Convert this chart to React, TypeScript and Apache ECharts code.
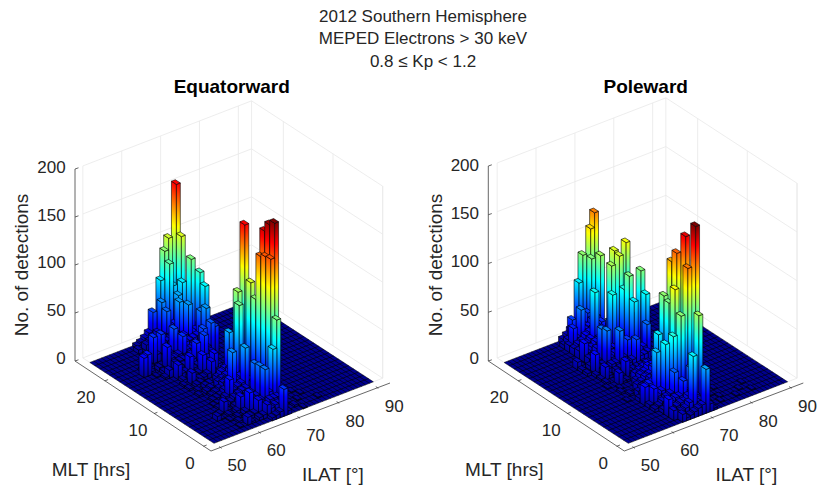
import React, { useEffect, useRef } from "react";
import * as echarts from "echarts";

// [MLT hour, ILAT degree, number of detections]; cells not listed have 0 detections
const equatorwardPeaks: number[][] = [
  [24,71,156],[23,71,105],[24,69,103],[24,68,91],[23,68,81],[24,67,62],[23,69,57],[21,71,88],[20,72,76],[22,70,62],
  [19,72,65],[23,66,44],[24,65,32],[22,66,38],[21,68,48],[22,69,50],[20,69,47],[19,71,40],[18,71,47],[17,71,35],
  [17,69,32],[17,72,30],[20,60,27],[18,55,20],[18,56,22],[20,62,27],[19,64,33],[18,61,22],[18,65,27],[16,66,25],
  [16,68,30],[14,65,21],[15,63,19],[15,60,15],[13,61,12],[13,66,16],[14,68,18],[16,59,8],
  [11,72,156],[5,72,178],[6,72,173],[7,72,163],[5,71,142],[6,71,141],[7,71,138],[3,70,87],[3,69,58],[8,71,90],
  [9,71,104],[10,69,94],[9,68,85],[11,68,50],[8,65,44],[7,67,49],[5,67,39],[4,67,40],[3,67,40],[7,63,22],
  [4,62,16],[3,63,22],[2,64,16],[1,65,13],[5,59,12],[4,56,5],[1,60,8],[0,68,28],
];
const equatorwardLow: number[][] = [
  [24,64,12],[24,63,8],[24,62,5],[24,61,3],[23,65,14],[23,64,10],[23,63,8],[23,62,6],[23,60,4],
  [22,65,15],[22,64,12],[22,63,9],[22,67,20],[22,68,22],[22,71,18],
  [21,66,15],[21,65,12],[21,64,11],[21,63,8],[21,62,8],[21,67,18],[21,69,20],[21,70,20],[21,72,14],
  [20,66,14],[20,65,13],[20,64,10],[20,63,10],[20,61,8],[20,67,16],[20,68,17],[20,71,18],[20,73,8],
  [19,67,15],[19,66,12],[19,65,13],[19,63,10],[19,62,7],[19,68,15],[19,69,16],[19,70,17],[19,72,10],
  [18,64,10],[18,63,8],[18,62,9],[18,66,12],[18,67,11],[18,68,14],[18,69,12],[18,70,14],[18,72,10],
  [17,66,10],[17,65,9],[17,64,8],[17,63,8],[17,62,7],[17,68,11],[17,70,12],
  [16,65,10],[16,64,7],[16,63,7],[16,62,6],[16,67,10],[16,69,10],[16,70,10],
  [15,67,8],[15,66,8],[15,65,7],[15,64,6],[15,62,5],[15,61,5],[15,68,10],[15,69,8],
  [14,66,7],[14,64,4],[14,63,4],[14,67,7],[14,69,6],[14,62,3],
  [13,65,5],[13,64,3],[13,63,3],[13,62,3],[13,67,4],[13,68,3],
  [11,67,14],[11,66,12],[11,65,8],[11,69,18],
  [10,67,16],[10,66,12],[10,65,10],[10,64,8],[10,68,18],
  [9,67,14],[9,66,12],[9,65,12],[9,64,10],[9,63,6],[9,69,20],
  [8,66,14],[8,64,12],[8,63,8],[8,62,4],[8,67,16],[8,68,17],
  [7,66,14],[7,65,12],[7,64,10],[7,62,6],[7,68,15],
  [6,66,12],[6,65,11],[6,64,9],[6,63,7],[6,62,4],[6,68,14],
  [5,66,11],[5,65,9],[5,64,7],[5,63,6],[5,62,3],[5,68,14],
  [4,66,11],[4,65,10],[4,64,8],[4,63,7],[4,68,14],[4,61,3],
  [3,66,10],[3,65,9],[3,64,9],[3,68,15],[3,62,4],
  [2,67,12],[2,66,8],[2,65,6],[2,63,4],[2,68,12],[2,62,3],[2,69,12],
  [1,66,8],[1,67,10],[1,68,10],[1,64,4],[1,63,3],
  [0,67,6],[0,66,4],[0,65,3],[0,69,4],
  [14,60,3],[13,59,2],[12,61,3],[12,59,2],[12,62,4],[11,60,2],[11,62,4],[11,63,5],[10,59,2],[10,61,3],[10,62,5],
  [9,61,2],[9,62,4],[8,60,2],[8,61,3],[7,60,2],[7,59,1],[6,59,2],[6,60,3],[5,58,1],[5,60,2],[4,57,1],[4,59,2],
  [3,58,1],[3,60,2],[2,59,2],[2,61,2],[1,58,1],[1,61,2],[16,58,2],[16,60,3],[17,59,3],[17,57,1],[18,59,4],[18,57,3],
  [19,58,3],[19,56,2],[1,72,2],[2,72,1],[2,74,1],[3,76,1],[1,78,1],[4,75,1],[0,73,1],
];
const polewardPeaks: number[][] = [
  [24,72,123],[24,71,108],[24,69,84],[23,70,82],[22,71,87],[24,68,57],[23,65,27],[22,64,23],[22,66,39],[20,67,62],
  [19,70,88],[20,72,97],[19,72,95],[20,75,101],[17,72,81],[17,75,82],[18,69,63],[18,72,64],[16,72,58],[16,75,61],
  [15,74,35],[17,65,37],[16,65,39],[15,67,39],[15,69,27],[14,70,29],[13,66,16],[12,63,12],[14,62,13],[16,62,19],
  [19,63,19],[18,60,8],
  [6,75,164],[8,75,147],[9,74,128],[10,74,116],[6,73,124],[10,72,84],[9,72,80],[5,70,83],[7,71,102],[3,72,87],
  [1,68,58],[3,70,36],[4,67,33],[3,68,26],[5,68,65],[8,68,57],[5,66,60],[6,65,50],[6,63,21],[5,63,19],
  [6,62,19],[2,63,18],[0,64,8],[1,63,10],[0,70,45],[0,71,8],
];
const polewardLow: number[][] = [
  [24,67,16],[24,66,12],[24,65,8],[24,64,5],[24,70,30],
  [23,68,18],[23,67,15],[23,66,14],[23,64,8],[23,63,4],[23,69,28],
  [22,67,18],[22,65,12],[22,63,7],[22,68,19],[22,69,24],[22,70,26],
  [21,67,18],[21,66,16],[21,65,12],[21,64,10],[21,63,7],[21,68,20],[21,69,21],[21,70,24],
  [20,66,16],[20,65,13],[20,64,10],[20,63,8],[20,68,20],[20,69,22],[20,71,26],
  [19,67,18],[19,66,16],[19,65,12],[19,64,8],[19,68,20],
  [18,67,16],[18,66,14],[18,64,8],[18,63,7],[18,65,14],[18,70,18],[18,71,20],
  [17,66,13],[17,64,7],[17,63,6],[17,62,4],[17,67,14],[17,68,14],[17,69,13],[17,70,14],[17,71,15],
  [16,64,6],[16,63,5],[16,66,10],[16,67,13],[16,68,13],[16,69,13],[16,70,14],[16,71,15],
  [15,66,8],[15,65,8],[15,64,5],[15,63,4],[15,68,11],[15,70,12],[15,71,14],[15,73,14],
  [14,67,7],[14,66,6],[14,65,5],[14,63,3],[14,68,8],[14,69,10],[14,71,11],[14,72,11],[14,73,12],
  [13,65,3],[13,64,3],[13,67,5],[13,68,5],[13,69,6],[13,70,6],[13,71,7],[13,72,6],
  [12,65,2],[12,64,2],[12,67,3],[12,68,3],[12,69,3],[12,70,3],
  [11,68,14],[11,67,12],[11,66,10],[11,69,16],[11,71,24],
  [10,67,14],[10,66,12],[10,65,8],[10,68,18],[10,69,18],[10,70,22],
  [9,66,13],[9,65,10],[9,64,8],[9,67,15],[9,68,20],[9,69,20],[9,70,22],
  [8,65,11],[8,64,10],[8,63,6],[8,66,15],[8,67,16],[8,69,22],
  [7,65,16],[7,64,12],[7,63,8],[7,62,4],[7,66,18],[7,67,19],[7,68,20],
  [6,64,11],[6,66,18],[6,67,18],[6,68,20],
  [5,64,10],[5,65,14],[5,67,22],[5,62,4],
  [4,64,8],[4,65,11],[4,66,13],[4,63,5],[4,62,3],[4,68,14],
  [3,66,12],[3,67,12],[3,65,8],[3,64,7],[3,63,4],[3,69,14],
  [2,64,7],[2,65,8],[2,66,10],[2,67,10],[2,68,14],[2,69,16],[2,70,12],
  [1,64,4],[1,65,6],[1,66,8],[1,67,12],[1,69,10],[1,70,10],
  [0,65,3],[0,66,4],[0,67,6],[0,68,8],[0,69,10],
  [18,61,3],[17,60,3],[16,60,3],[15,61,3],[14,61,2],[13,61,2],[12,60,1],[11,62,1],[10,61,2],[9,62,2],[8,60,1],
  [0,72,2],[1,72,3],[2,71,4],[2,73,1],[1,75,1],[2,76,1],[3,75,1],[4,77,1],[1,79,1],[2,81,1],[3,83,1],[1,83,1],[4,74,1],
];
const zTicks = [0, 50, 100, 150, 200];
const mltTicks = [0, 10, 20];
const ilatTicks = [50, 60, 70, 80, 90];
const panelNames = ["Equatorward", "Poleward"];
const mainTitle = "2012 Southern Hemisphere\nMEPED Electrons > 30 keV\n0.8 \u2264 Kp < 1.2";

const FONT = "Liberation Sans";
const INK = "#262626";
const GRID = "#e8e8e8";
const A = [3.887, -1.5];
const B = [-4.967, -3.233];
const ILAT_BINS = 41;
const MLT_BINS = 25;
const BOX_I = 43.4;
const BOX_J = 26.4;

const merge = (a: number[][], b: number[][]) => {
  const m = new Map<string, number[]>();
  [...a, ...b].forEach((c) => {
    const k = c[0] + "/" + c[1];
    if (!m.has(k)) m.set(k, c);
  });
  return [...m.values()];
};
const panels = [
  { cells: merge(equatorwardPeaks, equatorwardLow), fx: 214, fy: 443.3, kz: 0.96, max: 178, dx: 0 },
  { cells: merge(polewardPeaks, polewardLow), fx: 628.3, fy: 443.3, kz: 0.975, max: 164, dx: 413.3 },
];

const jetKnots: [number, number[]][] = [
  [0, [0, 0, 143]], [0.11, [0, 0, 255]], [0.365, [0, 255, 255]], [0.625, [255, 255, 0]],
  [0.875, [255, 0, 0]], [1, [128, 0, 0]],
];
function jet(t: number) {
  const v = Math.max(0, Math.min(1, t));
  for (let k = 1; k < jetKnots.length; k++) {
    const [t1, c1] = jetKnots[k];
    const [t0, c0] = jetKnots[k - 1];
    if (v <= t1) {
      const f = (v - t0) / (t1 - t0);
      const c = c0.map((x, n) => Math.round(x + (c1[n] - x) * f));
      return `rgb(${c[0]},${c[1]},${c[2]})`;
    }
  }
  return "rgb(128,0,0)";
}
function jetStops(frac: number) {
  const stops: { offset: number; color: string }[] = [];
  for (const [t] of jetKnots) {
    if (t < frac) stops.push({ offset: t / frac, color: jet(t) });
  }
  stops.push({ offset: 1, color: jet(frac) });
  return stops;
}

function App() {
  const ref = useRef<HTMLDivElement>(null);
  useEffect(() => {
    document.body.style.margin = "0";
    const chart = echarts.init(ref.current!, undefined, { renderer: "svg" });
    const series: any[] = [];
    const texts: any[] = [];
    const label = (text: string, x: number, y: number, align: string, size = 17, rotation = 0) =>
      texts.push({
        type: "text", x, y, rotation,
        style: { text, fontFamily: FONT, fontSize: size, fill: INK, align, verticalAlign: "middle" },
      });

    panels.forEach((p, pi) => {
      const P = (i: number, j: number, z = 0): number[] => [
        p.fx + A[0] * i + B[0] * j,
        p.fy + A[1] * i + B[1] * j - p.kz * z,
      ];
      const line = (api: any, a: number[], b: number[], stroke: string, lineWidth = 0.8) => {
        const s = api.coord(a);
        const e = api.coord(b);
        return { type: "line", shape: { x1: s[0], y1: s[1], x2: e[0], y2: e[1] }, style: { stroke, lineWidth }, silent: true };
      };
      const poly = (api: any, pts: number[][], style: any) => ({
        type: "polygon", shape: { points: pts.map((q) => api.coord(q)) }, style, silent: true,
      });

      // back walls, box edges and the drawn axes
      series.push({
        type: "custom", coordinateSystem: "cartesian2d", xAxisIndex: 0, yAxisIndex: 0, silent: true, z: 1, clip: false,
        data: [[0]],
        renderItem: (_: any, api: any) => {
          const ch: any[] = [];
          zTicks.forEach((z) => {
            ch.push(line(api, P(0, BOX_J, z), P(BOX_I, BOX_J, z), GRID));
            ch.push(line(api, P(BOX_I, BOX_J, z), P(BOX_I, 0, z), GRID));
          });
          ilatTicks.forEach((t) => ch.push(line(api, P(t - 50, BOX_J), P(t - 50, BOX_J, 200), GRID)));
          mltTicks.forEach((t) => ch.push(line(api, P(BOX_I, t), P(BOX_I, t, 200), GRID)));
          ch.push(line(api, P(BOX_I, BOX_J), P(BOX_I, BOX_J, 200), GRID));
          ch.push(line(api, P(BOX_I, 0), P(BOX_I, 0, 200), GRID));
          ch.push(line(api, P(0, 0), P(0, BOX_J), GRID));
          ch.push(line(api, P(0, 0), P(BOX_I, 0), GRID));
          const L = 75 + p.dx;
          const zBase = 361;
          ch.push(line(api, [L, zBase], [L, zBase - p.kz * 200], "#404040"));
          ch.push(line(api, [L, zBase], [211 + p.dx, 451], "#404040"));
          ch.push(line(api, [211 + p.dx, 451], [390 + p.dx, 383], "#404040"));
          zTicks.forEach((z) => {
            const y = zBase - p.kz * z;
            ch.push(line(api, [L, y], [L + 3.5, y - 1.2], "#404040"));
          });
          mltTicks.forEach((t) => {
            const q = [203.3 + p.dx - 4.93 * t, 446.3 - 3.27 * t];
            ch.push(line(api, q, [q[0] + 3.4, q[1] - 1.3], "#404040"));
          });
          ilatTicks.forEach((t) => {
            const q = [221.7 + p.dx + 3.917 * (t - 50), 448.3 - 1.5 * (t - 50)];
            ch.push(line(api, q, [q[0] - 2.6, q[1] - 1.7], "#404040"));
          });
          return { type: "group", children: ch };
        },
      });

      // floor of zero-height bars
      series.push({
        type: "custom", coordinateSystem: "cartesian2d", xAxisIndex: 0, yAxisIndex: 0, silent: true, z: 2, clip: false,
        data: [[0]],
        renderItem: (_: any, api: any) => {
          const ch: any[] = [
            poly(api, [P(0, 0), P(ILAT_BINS, 0), P(ILAT_BINS, MLT_BINS), P(0, MLT_BINS)], { fill: jet(0), stroke: "#000", lineWidth: 0.5 }),
          ];
          for (let i = 1; i < ILAT_BINS; i++) ch.push(line(api, P(i, 0), P(i, MLT_BINS), "#000", 0.6));
          for (let j = 1; j < MLT_BINS; j++) ch.push(line(api, P(0, j), P(ILAT_BINS, j), "#000", 0.6));
          return { type: "group", children: ch };
        },
      });

      // bars, farthest first
      const sorted = [...p.cells].sort((a, b) => b[0] + b[1] - (a[0] + a[1]));
      series.push({
        type: "custom", coordinateSystem: "cartesian2d", xAxisIndex: 0, yAxisIndex: 0, silent: true, z: 3, clip: false,
        data: sorted,
        renderItem: (_: any, api: any) => {
          const j = api.value(0) as number;
          const i = (api.value(1) as number) - 50;
          const v = api.value(2) as number;
          const frac = v / p.max;
          const face = (b0: number[], b1: number[]) => {
            const t0 = [b0[0], b0[1] - p.kz * v];
            const t1 = [b1[0], b1[1] - p.kz * v];
            const ex = b1[0] - b0[0];
            const ey = b1[1] - b0[1];
            const len = Math.hypot(ex, ey);
            const nx = ey / len;
            const ny = -ex / len;
            const s = (-p.kz * v) * ny;
            return poly(api, [b0, b1, t1, t0], {
              fill: {
                type: "linear", global: true,
                x: b0[0], y: b0[1], x2: b0[0] + nx * s, y2: b0[1] + ny * s,
                colorStops: jetStops(frac),
              },
              stroke: "#000", lineWidth: 0.6,
            });
          };
          const near = P(i, j);
          const right = P(i + 1, j);
          const left = P(i, j + 1);
          return {
            type: "group",
            children: [
              face(left, near),
              face(near, right),
              poly(api, [P(i, j, v), P(i + 1, j, v), P(i + 1, j + 1, v), P(i, j + 1, v)], {
                fill: jet(frac), stroke: "#000", lineWidth: 0.6,
              }),
            ],
          };
        },
      });

      // texts
      const zY = [358, 310.7, 262.7, 215.7, 167];
      const zYr = [358, 310, 261.7, 213, 165.7];
      zTicks.forEach((z, k) => label(String(z), 65.7 + p.dx, (pi ? zYr : zY)[k], "right"));
      mltTicks.forEach((t) => label(String(t), 190 + p.dx - 5.2 * t, 463 - 3.3 * t, "center"));
      ilatTicks.forEach((t) => label(String(t), 237 + p.dx + 3.93 * (t - 50), 465.7 - 1.49 * (t - 50), "center"));
      label("MLT [hrs]", 91 + p.dx, 469, "center", 19);
      label("ILAT [\u00b0]", 333 + p.dx, 474, "center", 19);
      label("No. of detections", 21.7 + p.dx, 265, "center", 19, Math.PI / 2);
      texts.push({
        type: "text", x: pi ? 645.7 : 231.7, y: 86,
        style: { text: panelNames[pi], fontFamily: FONT, fontSize: 19, fontWeight: "bold", fill: "#000", align: "center", verticalAlign: "middle" },
      });
    });

    chart.setOption({
      animation: false,
      backgroundColor: "#fff",
      title: {
        text: mainTitle, left: 423, top: 5, textAlign: "center", padding: 0,
        textStyle: { fontFamily: FONT, fontSize: 17, fontWeight: "normal", color: INK, lineHeight: 22.5 },
      },
      grid: { left: 0, top: 0, right: 0, bottom: 0 },
      xAxis: { type: "value", min: 0, max: 819, show: false },
      yAxis: { type: "value", min: 0, max: 491, inverse: true, show: false },
      tooltip: { show: false },
      graphic: texts,
      series,
    });
    return () => chart.dispose();
  }, []);
  return <div ref={ref} style={{ width: 819, height: 491 }} />;
}

export default App;
